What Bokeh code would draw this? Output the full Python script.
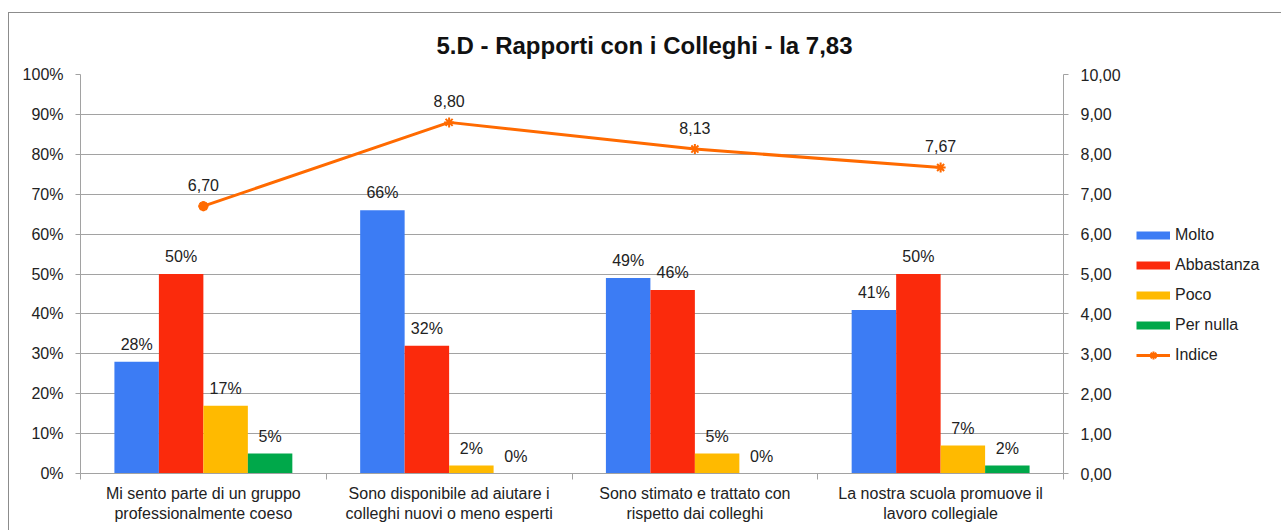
from bokeh.plotting import figure
from bokeh.layouts import row
from bokeh.models import Range1d, LinearAxis, FixedTicker, ColumnDataSource, Legend, LegendItem
from bokeh.transform import dodge
from bokeh.core.properties import value
from bokeh.embed import file_html
from bokeh.resources import INLINE

# ---------------- data ----------------
title_text = "5.D - Rapporti con i Colleghi - la 7,83"
categories = [
    "Mi sento parte di un gruppo\nprofessionalmente coeso",
    "Sono disponibile ad aiutare i\ncolleghi nuovi o meno esperti",
    "Sono stimato e trattato con\nrispetto dai colleghi",
    "La nostra scuola promuove il\nlavoro collegiale",
]
series_names = ["Molto", "Abbastanza", "Poco", "Per nulla"]
molto = [28, 66, 49, 41]
abbastanza = [50, 32, 46, 50]
poco = [17, 2, 5, 7]
per_nulla = [5, 0, 0, 2]
indice = [6.70, 8.80, 8.13, 7.67]
line_name = "Indice"
pct_ticks = [0, 10, 20, 30, 40, 50, 60, 70, 80, 90, 100]
pct_labels = ["0%", "10%", "20%", "30%", "40%", "50%", "60%", "70%", "80%", "90%", "100%"]
idx_ticks = [0, 1, 2, 3, 4, 5, 6, 7, 8, 9, 10]
idx_labels = ["0,00", "1,00", "2,00", "3,00", "4,00", "5,00", "6,00", "7,00", "8,00", "9,00", "10,00"]

# ---------------- styles ----------------
colors = ["#3c7cf4", "#fb2a0c", "#ffba00", "#00a84a"]
orange = "#ff6a00"
grey = "#a2a2a2"
border = "1px solid #8c8c8c"
font = "Liberation Sans"
txt = "#222222"
nan = float("nan")

xc = [i + 0.5 for i in range(len(categories))]
series = [molto, abbastanza, poco, per_nulla]
data = dict(x=xc, indice=indice,
            indice_lbl=[f"{v:.2f}".replace(".", ",") for v in indice])
keys = ["s0", "s1", "s2", "s3"]
for k, s in zip(keys, series):
    data[k] = s
    data[k + "_lbl"] = [f"{v}%" for v in s]
src = ColumnDataSource(data)

p = figure(width=1117, height=518, x_range=Range1d(0, len(categories)), y_range=Range1d(0, 100),
           output_backend="svg", toolbar_location=None, tools="",
           min_border_left=71, min_border_right=63, min_border_top=61, min_border_bottom=58)
p.margin = (12, 0, 0, 8)
p.extra_y_ranges = {"idx": Range1d(0, 10)}
p.outline_line_color = None
p.background_fill_color = "white"
p.styles = {"border-top": border, "border-left": border}

# title
p.title.text = title_text
p.title.align = "left"
p.title.vertical_align = "middle"
p.title.offset = 356
p.title.standoff = 30
p.title.text_font = font
p.title.text_font_size = "24px"
p.title.text_font_style = "bold"
p.title.text_color = "#111111"

# bars
w = 0.181
offs = [-1.5 * w, -0.5 * w, 0.5 * w, 1.5 * w]
for k, c, o in zip(keys, colors, offs):
    p.vbar(x=dodge("x", o), top=k, width=w, source=src, fill_color=c, line_color=None)
    p.text(x=dodge("x", o), y=k, text=k + "_lbl", source=src, text_align="center",
           text_baseline="bottom", y_offset=-9, text_font=value(font),
           text_font_size="16px", text_color=txt)

# index line
p.line(x="x", y="indice", source=src, y_range_name="idx", line_color=orange, line_width=3)
p.scatter(x="x", y="indice", source=src, y_range_name="idx", marker="asterisk", size=10,
          line_color=orange, line_width=2)
first = ColumnDataSource(dict(x=xc[:1], y=indice[:1]))
p.scatter(x="x", y="y", source=first, y_range_name="idx", marker="circle", size=9,
          fill_color=orange, line_color=orange)
p.text(x="x", y="indice", text="indice_lbl", source=src, y_range_name="idx",
       text_align="center", text_baseline="bottom", y_offset=-15, text_font=value(font),
       text_font_size="16px", text_color=txt)

# axes
p.yaxis.ticker = FixedTicker(ticks=pct_ticks)
p.yaxis.major_label_overrides = {t: l for t, l in zip(pct_ticks, pct_labels)}
p.ygrid.ticker = FixedTicker(ticks=pct_ticks)
p.ygrid.grid_line_color = grey
p.xgrid.grid_line_color = None

right = LinearAxis(y_range_name="idx", ticker=FixedTicker(ticks=idx_ticks),
                   major_label_overrides={t: l for t, l in zip(idx_ticks, idx_labels)})
p.add_layout(right, "right")

p.xaxis.ticker = FixedTicker(ticks=xc, minor_ticks=list(range(len(categories) + 1)))
p.xaxis.major_label_overrides = {x: c for x, c in zip(xc, categories)}
p.xaxis.major_tick_out = 0
p.xaxis.major_tick_in = 0
p.xaxis.minor_tick_out = 6
p.xaxis.minor_tick_in = 0
p.xaxis.major_label_standoff = 5

for ax in [p.yaxis[0], right]:
    ax.major_tick_out = 5
    ax.major_tick_in = 0
    ax.major_label_standoff = 12
for ax in [p.xaxis[0], p.yaxis[0], right]:
    ax.axis_line_color = grey
    ax.major_tick_line_color = grey if ax is not p.xaxis[0] else None
    ax.minor_tick_line_color = grey if ax is p.xaxis[0] else None
    ax.major_label_text_font = font
    ax.major_label_text_font_size = "16px"
    ax.major_label_text_color = txt

# ---------------- legend panel ----------------
q = figure(width=156, height=518, x_range=Range1d(0, 1), y_range=Range1d(0, 1),
           output_backend="svg", toolbar_location=None, tools="",
           min_border_left=0, min_border_right=0, min_border_top=0, min_border_bottom=0)
q.margin = (12, 0, 0, 0)
q.styles = {"border-top": border}
q.axis.visible = False
q.grid.visible = False
q.outline_line_color = None
q.title.text = ""

items = []
for name, c in zip(series_names, colors):
    r = q.line(x=[nan], y=[nan], line_color=c, line_width=8)
    items.append(LegendItem(label=name, renderers=[r]))
lr = q.line(x=[nan], y=[nan], line_color=orange, line_width=3)
ls = q.scatter(x=[nan], y=[nan], marker="asterisk", size=9, line_color=orange, line_width=2)
items.append(LegendItem(label=line_name, renderers=[lr, ls]))
legend = Legend(items=items, location=(11, 108), glyph_width=34, glyph_height=20,
                label_height=20, spacing=10, padding=0, margin=0, label_standoff=5,
                border_line_color=None, background_fill_alpha=0,
                label_text_font=font, label_text_font_size="16px", label_text_color=txt)
q.add_layout(legend, "center")

layout = row(p, q)
open("out.html", "w").write(file_html(layout, INLINE))
